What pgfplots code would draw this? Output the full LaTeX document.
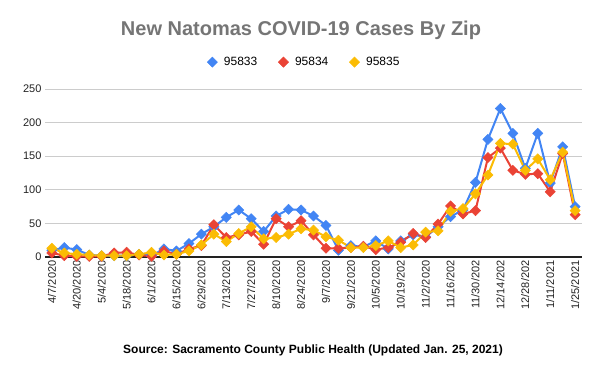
\documentclass[border=0pt]{standalone}
\usepackage{pgfplots}
\pgfplotsset{compat=1.18}
\usepackage{pgfplotstable}
\usepackage{fontspec}
\setmainfont{Liberation Sans}
\definecolor{cblue}{HTML}{4285F4}
\definecolor{cred}{HTML}{EA4335}
\definecolor{cyellow}{HTML}{FBBC04}
\definecolor{titlegray}{HTML}{757575}
\definecolor{gridgray}{HTML}{CCCCCC}
\definecolor{labgray}{HTML}{222222}

\pgfplotstableread{
idx a b c
0 10 6 13
1 14 2 6
2 11 1 4
3 3 1 3
4 2 1 2
5 2 6 2
6 2 7 2
7 4 3 4
8 2 1 7
9 12 9 3
10 9 4 4
11 20 12 9
12 34 17 18
13 45 48 34
14 59 29 23
15 70 33 35
16 57 38 45
17 38 19 27
18 61 57 29
19 71 45 34
20 70 54 42
21 61 33 40
22 47 13 30
23 10 13 25
24 17 14 14
25 15 16 14
26 24 11 17
27 12 14 24
28 24 22 14
29 33 35 18
30 30 29 37
31 45 49 39
32 60 76 68
33 70 64 72
34 111 69 94
35 175 148 122
36 221 162 169
37 184 129 168
38 132 123 129
39 184 124 146
40 110 97 115
41 164 154 156
42 75 63 69
}\data

\begin{document}
\begin{tikzpicture}
\useasboundingbox (0,0) rectangle (600pt,373pt);
\begin{axis}[
  at={(45pt,116pt)}, anchor=south west,
  scale only axis, width=537pt, height=168pt,
  xmin=-0.55, xmax=42.55, ymin=0, ymax=250,
  ytick={0,50,...,250},
  xtick={0,2,...,42},
  xticklabels={4/7/2020,4/20/2020,5/4/2020,5/18/2020,6/1/2020,6/15/2020,6/29/2020,7/13/2020,7/27/2020,8/10/2020,8/24/2020,9/7/2020,9/21/2020,10/5/2020,10/19/202,11/2/2020,11/16/202,11/30/202,12/14/202,12/28/202,1/11/2021,1/25/2021},
  xticklabel style={rotate=90, anchor=east, font=\fontsize{11}{13}\selectfont, text=labgray},
  yticklabel style={font=\fontsize{11}{13}\selectfont, text=labgray},
  /pgf/number format/assume math mode=true,
  major tick length=0pt,
  ymajorgrids, grid style={gridgray, line width=0.8pt},
  axis x line*=bottom, axis y line*=left,
  x axis line style={draw=labgray, line width=1.2pt},
  y axis line style={draw=none},
  clip=false,
  legend columns=3,
  legend style={draw=none, fill=none, at={(0.483,1.16)}, anchor=center,
    font=\fontsize{12}{14}\selectfont,
    /tikz/every odd column/.append style={column sep=4.5pt},
    /tikz/every even column/.append style={column sep=19pt}},
  legend image code/.code={\draw[#1, only marks] plot coordinates {(0.3em,0pt)};},
  every axis plot/.append style={line width=2pt, mark=square*, mark size=3.6pt, mark options={rotate=45, solid, line width=0.5pt}},
]
\addplot[color=cblue] table[x=idx, y=a] {\data};
\addlegendentry{95833}
\addplot[color=cred] table[x=idx, y=b] {\data};
\addlegendentry{95834}
\addplot[color=cyellow] table[x=idx, y=c] {\data};
\addlegendentry{95835}
\end{axis}
\node[font=\bfseries\fontsize{20}{24}\selectfont, text=titlegray] at (301pt,343pt) {New Natomas COVID-19 Cases By Zip};
\node[font=\bfseries\fontsize{12}{14}\selectfont] at (313pt,23pt) {Source: Sacramento County Public Health (Updated Jan. 25, 2021)};
\end{tikzpicture}
\end{document}
